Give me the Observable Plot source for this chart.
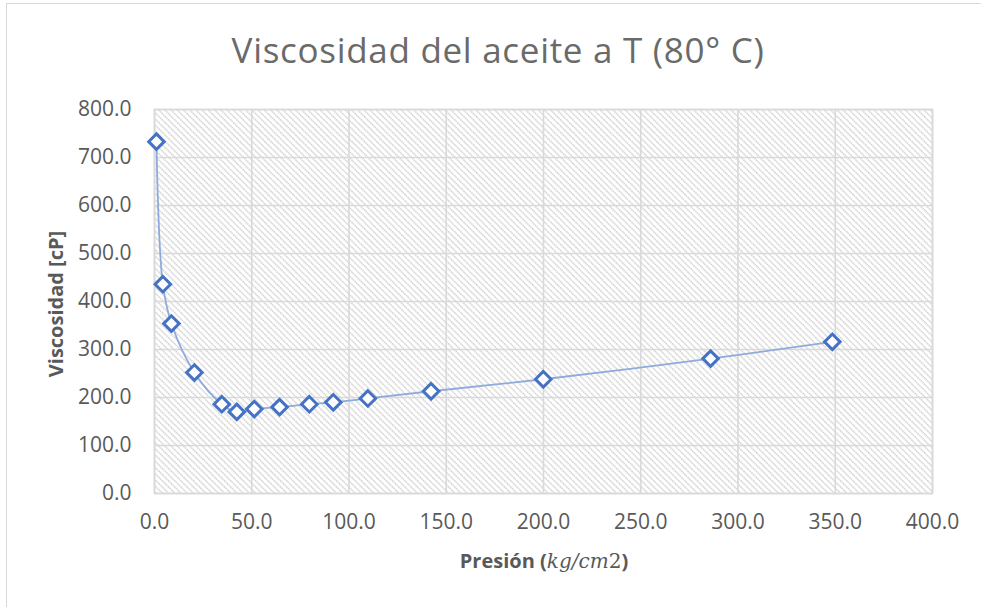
<!DOCTYPE html>
<html>
<head>
<meta charset="utf-8">
<script src="https://cdn.jsdelivr.net/npm/d3@7"></script>
<script src="https://cdn.jsdelivr.net/npm/@observablehq/plot@0.6"></script>
<style>
  html, body { margin: 0; padding: 0; background: #fff; overflow: hidden; }
  #wrap { position: relative; width: 981px; height: 607px; overflow: hidden; font-family: "Open Sans", sans-serif; }
  #border { position: absolute; left: 6px; top: 3px; width: 1000px; height: 700px; border: 1.5px solid #d9d9d9; box-sizing: border-box; }
  #title { position: absolute; left: 0; top: 31px; width: 996px; text-align: center; font-size: 35px; letter-spacing: 0.7px; color: #6a6a6a; line-height: 1.1; white-space: nowrap; }
  #chart { position: absolute; left: 0; top: 0; }
</style>
</head>
<body>
<div id="wrap">
  <div id="border"></div>
  <div id="chart"></div>
  <div id="title">Viscosidad del aceite a T (80° C)</div>
</div>
<script>
const presion = [1.0, 4.3, 8.7, 20.5, 34.6, 42.3, 51.3, 64.3, 79.6, 91.9, 109.7, 142.2, 199.9, 285.9, 348.5];
const viscosidad = [733, 436, 354, 252, 186, 170, 176, 180, 186, 190, 198, 213, 238, 281, 316];
const xTicks = [0, 50, 100, 150, 200, 250, 300, 350, 400];
const yTicks = [0, 100, 200, 300, 400, 500, 600, 700, 800];

const data = presion.map((p, i) => ({p, v: viscosidad[i]}));
const fmt = d3.format(".1f");

const plot = Plot.plot({
  width: 981,
  height: 607,
  marginLeft: 154,
  marginRight: 49,
  marginTop: 109,
  marginBottom: 114,
  style: { fontFamily: "Open Sans, sans-serif", fontSize: "21px", color: "#595959", background: "transparent" },
  x: { domain: [0, 400], ticks: xTicks },
  y: { domain: [0, 800], ticks: yTicks },
  marks: [
    Plot.frame({ fill: "white", stroke: "none", className: "hatch-bg" }),
    Plot.gridX(xTicks, { stroke: "#d9d9d9", strokeOpacity: 1, strokeWidth: 1.6 }),
    Plot.gridY(yTicks, { stroke: "#d9d9d9", strokeOpacity: 1, strokeWidth: 1.6 }),
    Plot.frame({ stroke: "#d9d9d9", strokeWidth: 1.6 }),
    Plot.axisX(xTicks, { tickSize: 0, tickPadding: 21, tickFormat: fmt, label: null, fill: "#595959" }),
    Plot.axisY(yTicks, { tickSize: 0, tickPadding: 23, tickFormat: fmt, label: null, fill: "#595959" }),
    Plot.line(data, { x: "p", y: "v", curve: "catmull-rom", stroke: "#8faadc", strokeWidth: 1.8 }),
    Plot.dot(data, { x: "p", y: "v", symbol: "diamond2", r: 7.0, stroke: "#4472c4", strokeWidth: 3, fill: "white" })
  ]
});

document.getElementById("chart").appendChild(plot);

const svg = d3.select(plot);
const defs = svg.insert("defs", ":first-child");
const S = 4.4;
const pat = defs.append("pattern")
  .attr("id", "hatch")
  .attr("patternUnits", "userSpaceOnUse")
  .attr("width", S).attr("height", S)
  .attr("patternTransform", "rotate(45)");
pat.append("rect").attr("width", S).attr("height", S).attr("fill", "white");
pat.append("line").attr("x1", 0).attr("y1", 0.8).attr("x2", S).attr("y2", 0.8)
  .attr("stroke", "#d0d0d0").attr("stroke-width", 1.6).attr("stroke-dasharray", "1.5 0.7");
svg.selectAll(".hatch-bg").attr("fill", "url(#hatch)");
svg.selectAll(".hatch-bg rect").attr("fill", "url(#hatch)");

// axis titles
svg.append("text")
  .attr("transform", "translate(63,304) rotate(-90)")
  .attr("text-anchor", "middle")
  .attr("font-family", "Open Sans, sans-serif")
  .attr("font-weight", "bold")
  .attr("font-size", 20)
  .attr("fill", "#595959")
  .text("Viscosidad [cP]");

const xt = svg.append("text")
  .attr("x", 544).attr("y", 568)
  .attr("text-anchor", "middle")
  .attr("font-family", "Open Sans, sans-serif")
  .attr("font-weight", "bold")
  .attr("font-size", 20)
  .attr("fill", "#595959");
xt.append("tspan").text("Presión (");
xt.append("tspan").attr("font-family", "DejaVu Serif, serif").attr("font-style", "italic").attr("font-weight", "normal").attr("font-size", 20).text("kg/cm");
xt.append("tspan").attr("font-family", "DejaVu Serif, serif").attr("font-weight", "normal").attr("font-size", 20).text("2");
xt.append("tspan").text(")");
</script>
</body>
</html>
